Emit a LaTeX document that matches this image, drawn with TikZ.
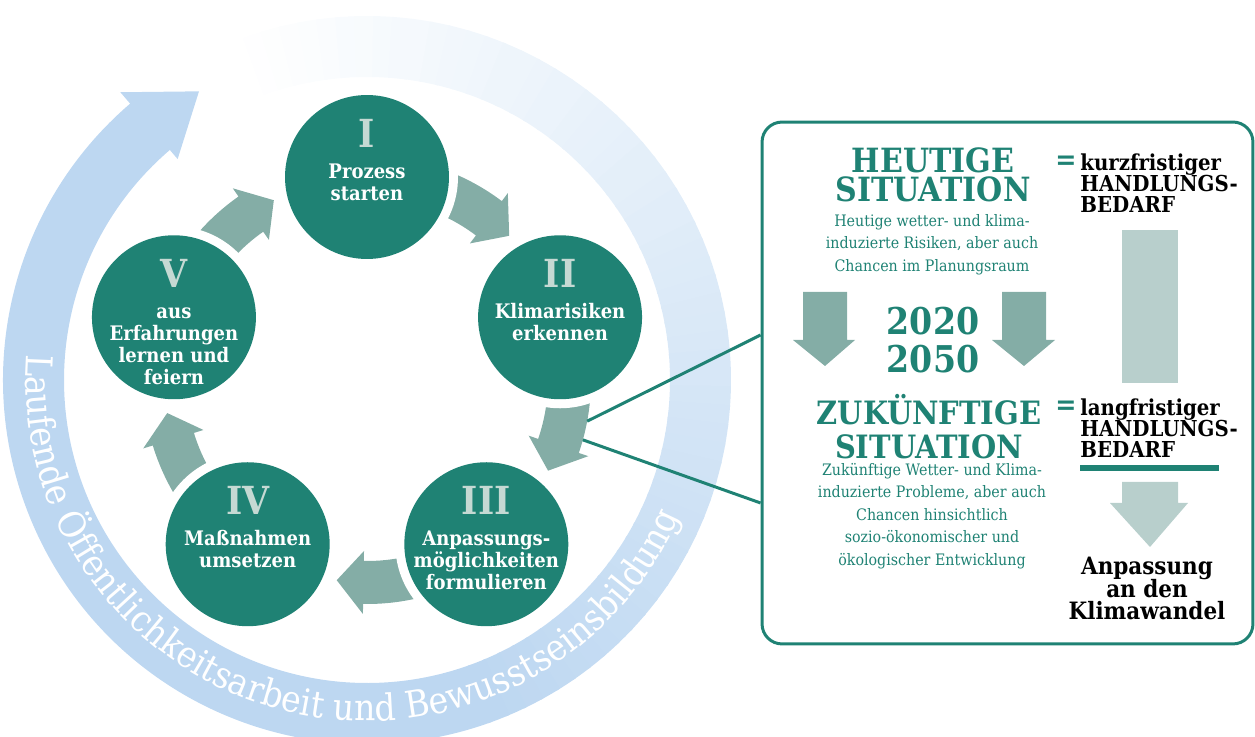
\documentclass[tikz,border=0pt]{standalone}
\usepackage{fontspec}
\setmainfont{DejaVu Serif}[FakeStretch=0.9]
\usetikzlibrary{decorations.text}
\definecolor{dunkelgruen}{HTML}{1F8274}
\definecolor{pfeilgruen}{HTML}{84ADA6}
\definecolor{ziffergrau}{HTML}{C5D9D3}
\definecolor{balkengrau}{HTML}{B8CFCC}
\definecolor{ringblau}{HTML}{BDD7F1}
\lineskiplimit=-20pt
\begin{document}
\begin{tikzpicture}[x=0.02cm,y=0.02cm,line join=round,
    kreis/.style={circle,fill=dunkelgruen,minimum size=3.28cm,inner sep=0pt},
    kreistext/.style={anchor=north,align=center,inner sep=0pt,text=white,
        font=\bfseries\fontsize{11.4}{12.6}\selectfont},
    titel/.style={anchor=north,align=center,inner sep=0pt,text=dunkelgruen},
    klein/.style={anchor=north,align=center,inner sep=0pt,text=dunkelgruen,
        font=\fontsize{9}{12.75}\selectfont},
    schwarz/.style={inner sep=0pt,text=black,
        font=\bfseries\fontsize{12.5}{12.2}\selectfont},
    gleich/.style={inner sep=0pt,text=dunkelgruen,font=\bfseries\fontsize{16}{16}\selectfont},
    verbindung/.style={dunkelgruen,line width=1.7pt}]
\def\ziffer#1{{\color{ziffergrau}\fontsize{22}{22}\selectfont #1}\\[4.8pt]}
\useasboundingbox (0,0) rectangle (1255,737);
% grosser Ring
\begin{scope}[shift={(367,357)}]
  \foreach \i in {0,...,59}{
    \pgfmathsetmacro\a{110-3*\i}
    \pgfmathsetmacro\b{\a-3.5}
    \pgfmathtruncatemacro\p{100*(\i+1)/60}
    \fill[ringblau!\p!white] (\a:364) arc[start angle=\a,end angle=\b,radius=364]
      -- (\b:303) arc[start angle=\b,end angle=\a,radius=303] -- cycle;
  }
  \fill[ringblau] (-70:364) arc[start angle=-70,end angle=-229.4,radius=364]
    -- (-229.4:379) -- (-239.8:334) -- (-229.4:291) -- (-229.4:303)
    arc[start angle=-229.4,end angle=-70,radius=303] -- cycle;
  \path[decorate,decoration={text along path,text align=center,
      text={|\color{white}\fontsize{21}{21}\selectfont|Laufende Öffentlichkeitsarbeit und Bewusstseinsbildung}}]
    (172:341) arc[start angle=172,end angle=340,radius=341];
\end{scope}
% Kreislauf
\begin{scope}[shift={(367,357)}]
  \foreach \t in {90,18,-54,-126,162}{
    \pgfmathsetmacro\s{\t-10}
    \pgfmathsetmacro\h{\t-37}
    \pgfmathsetmacro\e{\t-44.6}
    \fill[pfeilgruen] (\s:181) arc[start angle=\s,end angle=\h,radius=181]
      -- (\h:171) -- (\e:202.5) -- (\h:234) -- (\h:224)
      arc[start angle=\h,end angle=\s,radius=224] -- cycle;
    \fill[white] (\t:203) circle (91);
  }
  \node[kreis] (s1) at (90:203) {};
  \node[kreis] (s2) at (18:203) {};
  \node[kreis] (s3) at (-54:203) {};
  \node[kreis] (s4) at (-126:203) {};
  \node[kreis] (s5) at (162:203) {};
  \coordinate (c1) at (-10.6:224);
  \coordinate (c2) at (-15.5:224);
\end{scope}
\node[kreistext] (t1) at ([yshift=1.16cm]s1.center) {\ziffer{I}Prozess\\starten};
\node[kreistext] (t2) at ([yshift=1.16cm]s2.center) {\ziffer{II}Klimarisiken\\erkennen};
\node[kreistext] (t3) at ([yshift=1.16cm]s3.center) {\ziffer{III}Anpassungs-\\möglichkeiten\\formulieren};
\node[kreistext] (t4) at ([yshift=1.16cm]s4.center) {\ziffer{IV}Maßnahmen\\umsetzen};
\node[kreistext] (t5) at ([yshift=1.16cm]s5.center) {\ziffer{V}aus\\Erfahrungen\\lernen und\\feiern};
% Kasten rechts
\node[draw=dunkelgruen,line width=1.7pt,rounded corners=0.4cm,minimum width=9.82cm,
  minimum height=10.44cm,inner sep=0pt] (kasten) at (1007.5,354) {};
\draw[verbindung] (c1) -- ([yshift=0.96cm]kasten.west);
\draw[verbindung] (c2) -- ([yshift=-2.4cm]kasten.west);
\node[titel,font=\bfseries\fontsize{19}{17}\selectfont] (heute) at (933,590) {HEUTIGE\\SITUATION};
\node[klein] (heutetext) at (932,523) {Heutige wetter- und klima-\\induzierte Risiken, aber auch\\Chancen im Planungsraum};
\fill[pfeilgruen] (803,445) -- (847,445) -- (847,397) -- (855,397) -- (825,371) -- (793,397) -- (803,397) -- cycle;
\fill[pfeilgruen] (1002,445) -- (1046,445) -- (1046,397) -- (1055,397) -- (1024,371) -- (992,397) -- (1002,397) -- cycle;
\node[titel,font=\bfseries\fontsize{21}{21.5}\selectfont] (jahre) at (933,430) {2020\\2050};
\node[titel,font=\bfseries\fontsize{18.3}{19.3}\selectfont] (zukunft) at (929,343) {ZUKÜNFTIGE\\SITUATION};
\node[klein] (zukunfttext) at (932,274) {Zukünftige Wetter- und Klima-\\induzierte Probleme, aber auch\\Chancen hinsichtlich\\sozio-ökonomischer und\\ökologischer Entwicklung};
\node[gleich] (g1) at (1066,574) {=};
\node[schwarz,anchor=north west,align=left] (kurz) at (1080,584) {kurzfristiger\\HANDLUNGS-\\BEDARF};
\node[gleich] (g2) at (1066,329) {=};
\node[schwarz,anchor=north west,align=left] (lang) at (1080,339) {langfristiger\\HANDLUNGS-\\BEDARF};
\fill[balkengrau] (1122,354) rectangle (1178,507);
\fill[dunkelgruen] (1080,266) rectangle (1219,272);
\fill[balkengrau] (1122,255) -- (1178,255) -- (1178,234) -- (1188,234) -- (1150,190) -- (1110,234) -- (1122,234) -- cycle;
\node[schwarz,anchor=north,align=center,font=\bfseries\fontsize{13.6}{12.75}\selectfont] (anpassung) at (1147,180) {Anpassung\\an den\\Klimawandel};
\end{tikzpicture}
\end{document}
